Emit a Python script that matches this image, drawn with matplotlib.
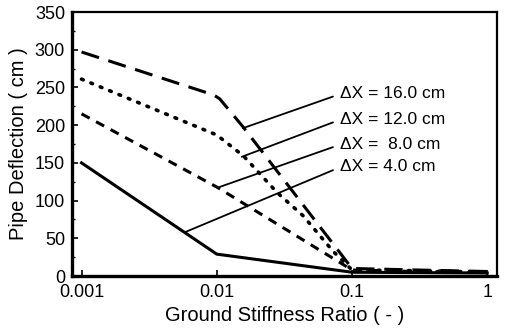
import matplotlib
matplotlib.use("Agg")
import matplotlib.pyplot as plt
from matplotlib.ticker import FixedLocator, NullLocator, FixedFormatter

plt.rcParams['font.family'] = ['Liberation Sans', 'DejaVu Sans']

# Series data (x: ground stiffness ratio, y: pipe deflection in cm)
x16 = [0.001, 0.0095, 0.0105, 0.0156, 0.1, 0.3, 1.0]
y16 = [297, 240, 235, 198, 10, 8, 6]

x12 = [0.001, 0.01, 0.0158, 0.0278, 0.0434, 0.0723, 0.1, 0.3, 1.0]
y12 = [261, 187, 159, 111, 80, 33, 8, 7, 5]

x8 = [0.001, 0.01, 0.1, 0.3, 1.0]
y8 = [215, 118, 8, 6, 5]

x4 = [0.001, 0.01, 0.1, 1.0]
y4 = [150, 29, 5, 4]

labels = ["\u0394X = 16.0 cm", "\u0394X = 12.0 cm", "\u0394X =  8.0 cm", "\u0394X = 4.0 cm"]
# leader-line anchor points on the curves
anchor_x = [0.0156, 0.0153, 0.0101, 0.0058]
anchor_y = [196, 158, 117, 58]
# label positions
label_x = [0.081, 0.081, 0.081, 0.081]
label_y = [242, 208, 175, 145]

xticks = [0.001, 0.01, 0.1, 1]
xticklabels = ["0.001", "0.01", "0.1", "1"]
yticks = [0, 50, 100, 150, 200, 250, 300, 350]

fig = plt.figure(figsize=(5.08, 3.30), dpi=100)
ax = fig.add_axes([0.1417, 0.1636, 0.8366, 0.8])

ax.plot(x16, y16, color='black', lw=2.2, dashes=(6.0, 3.2), solid_capstyle='butt')
ax.plot(x12, y12, color='black', lw=2.6, linestyle=(0, (0.5, 2.3)), dash_capstyle='round')
ax.plot(x8, y8, color='black', lw=2.2, dashes=(3.0, 2.4))
ax.plot(x4, y4, color='black', lw=2.2)

for lab, ax_, ay_, lx, ly in zip(labels, anchor_x, anchor_y, label_x, label_y):
    ax.annotate(lab, xy=(ax_, ay_), xytext=(lx, ly), textcoords='data',
                ha='left', va='center', fontsize=12.5,
                arrowprops=dict(arrowstyle='-', lw=1.3, color='black',
                                shrinkA=3, shrinkB=0, relpos=(0, 0.45)))

ax.set_xscale('log')
ax.set_xlim(0.00085, 1.18)
ax.set_ylim(0, 350)
ax.xaxis.set_major_locator(FixedLocator(xticks))
ax.xaxis.set_major_formatter(FixedFormatter(xticklabels))
ax.xaxis.set_minor_locator(NullLocator())
ax.set_yticks(yticks)
ax.set_yticks([25, 75, 125, 175, 225, 275, 325], minor=True)

ax.tick_params(axis='both', which='major', direction='in', length=4, width=1.2,
               labelsize=13)
ax.tick_params(axis='y', which='major', pad=5)
ax.tick_params(axis='x', which='major', pad=5.5)
ax.tick_params(axis='y', which='minor', direction='in', length=2.5, width=1.0)
ax.tick_params(top=False, right=False)

for s in ax.spines.values():
    s.set_linewidth(1.6)
ax.spines['left'].set_linewidth(2.4)
ax.spines['bottom'].set_linewidth(2.4)

ax.set_xlabel("Ground Stiffness Ratio ( - )", fontsize=14.5, labelpad=4)
ax.set_ylabel("Pipe Deflection ( cm )", fontsize=14.5, labelpad=5)

fig.savefig("out.png", dpi=100)
